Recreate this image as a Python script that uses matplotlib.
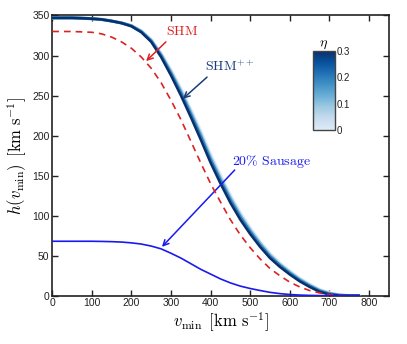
import numpy as np
import matplotlib
matplotlib.use("Agg")
import matplotlib.pyplot as plt
from matplotlib.colors import LinearSegmentedColormap, Normalize
import matplotlib.cm as cm

plt.rcParams['mathtext.fontset'] = 'cm'
plt.rcParams['font.family'] = ['Liberation Sans', 'DejaVu Sans']

v = [0, 25, 50, 75, 100, 125, 150, 175, 200, 225, 250, 275, 300, 325, 350, 375,
     400, 425, 450, 475, 500, 525, 550, 575, 600, 625, 650, 675, 700, 725, 750, 775]

h_shm = [330, 330, 330, 329.5, 329, 327, 323, 317, 309, 298, 284, 266, 244, 220, 193, 166,
         140, 117, 95, 76, 60, 46, 34, 25, 17, 11, 6.5, 3.5, 1.5, 0.5, 0.1, 0]

h_pp_eta00 = [347, 347, 347, 346.6, 346, 345, 343.2, 340.8, 337.5, 331, 320, 303, 282, 259, 233, 206,
              177, 151, 126, 104, 85, 68, 53, 41, 31, 22, 14.5, 8, 3.7, 1.2, 0, 0]
h_pp_eta01 = [347, 347, 347, 346.6, 346, 345, 343.1, 340.7, 337.2, 330.3, 319, 301.3, 279.7, 256, 229.7, 202.3,
              173, 147.3, 122.7, 101, 82.3, 65.7, 51, 39.3, 29.5, 20.7, 13.3, 7, 3, 0.9, 0, 0]
h_pp_eta02 = [347, 347, 347, 346.6, 346, 345, 343.0, 340.6, 336.9, 329.7, 318, 299.7, 277.3, 253, 226.3, 198.7,
              169.5, 143.7, 119.3, 98, 79.7, 63.3, 49, 37.7, 28, 19.3, 12.2, 6, 2.3, 0.5, 0, 0]
h_pp_eta03 = [347, 347, 347, 346.6, 346, 345, 343, 340.5, 336.5, 329, 317, 298, 275, 250, 223, 195,
              166, 140, 116, 95, 77, 61, 47, 36, 26.5, 18, 11, 5, 1.5, 0.2, 0, 0]

h_sausage = [68, 68, 68, 68, 68, 67.8, 67.5, 67, 66, 64.5, 62, 58.5, 53, 47, 40, 33,
             27, 21, 16, 12, 9, 6.5, 4.2, 2.6, 1.5, 0.8, 0.4, 0.15, 0, 0, 0, 0]

eta_values = [0.0, 0.1, 0.2, 0.3]
pp_curves = [h_pp_eta00, h_pp_eta01, h_pp_eta02, h_pp_eta03]
eta_ticks = [0, 0.1, 0.2, 0.3]
eta_ticklabels = ['0', '0.1', '0.2', '0.3']

base = plt.get_cmap('Blues')
cmap = LinearSegmentedColormap.from_list('bl', base(np.linspace(0.12, 1.0, 256)))
norm = Normalize(0, 0.3)

fig = plt.figure(figsize=(4.07, 3.44), dpi=100)
ax = fig.add_axes([0.1285, 0.1404, 0.8265, 0.8146])

for eta, hh in zip(eta_values, pp_curves):
    ax.plot(v, hh, color=cmap(norm(eta)), lw=2.2 if eta < 0.3 else 1.8, zorder=3,
            solid_capstyle='round', solid_joinstyle='round')

ax.plot(v, h_shm, color='#dd2222', lw=1.2, ls=(0, (4, 3)), zorder=4)
sausage_color = '#1a1af0'
ax.plot(v, h_sausage, color=sausage_color, lw=1.2, zorder=4)

ax.set_xlim(0, 850)
ax.set_ylim(0, 350)
ax.set_xticks(range(0, 801, 100))
ax.set_yticks(range(0, 351, 50))
ax.tick_params(direction='in', top=True, right=True, length=4, width=1, labelsize=7.5,
               colors='#222222', pad=2)
for s in ax.spines.values():
    s.set_linewidth(1.2)
    s.set_color('#222222')

ax.set_xlabel(r'$v_\mathrm{min}\ \,[\mathrm{km\ s^{-1}}]$', fontsize=12, labelpad=1)
ax.set_ylabel(r'$h(v_\mathrm{min})\ \,[\mathrm{km\ s^{-1}}]$', fontsize=12, labelpad=2)

# annotation texts
navy = '#1a3d7c'
red = '#dd2222'
ax.text(327, 330, r'$\mathrm{SHM}$', color=red, fontsize=10, ha='center', va='center')
ax.text(449, 286, r'$\mathrm{SHM}^{++}$', color=navy, fontsize=10, ha='center', va='center')
ax.text(555, 167, r'$20\%\ \mathrm{Sausage}$', color=sausage_color, fontsize=10, ha='center', va='center')

# arrows
ax.annotate('', xy=(237, 293), xytext=(287, 317),
            arrowprops=dict(arrowstyle='->', color=red, lw=1.1, shrinkA=0, shrinkB=0))
ax.annotate('', xy=(330, 246), xytext=(391, 273),
            arrowprops=dict(arrowstyle='->', color=navy, lw=1.1, shrinkA=0, shrinkB=0))
ax.annotate('', xy=(277, 61), xytext=(461, 157),
            arrowprops=dict(arrowstyle='->', color=sausage_color, lw=1.1, shrinkA=0, shrinkB=0))

# colorbar
cax = fig.add_axes([0.769, 0.622, 0.054, 0.2305])
sm = cm.ScalarMappable(norm=norm, cmap=cmap)
cb = fig.colorbar(sm, cax=cax, ticks=eta_ticks)
cb.ax.set_yticklabels(eta_ticklabels)
cb.ax.tick_params(labelsize=7, length=0, pad=1.5, colors='#222222')
cb.outline.set_linewidth(1.0)
cb.outline.set_edgecolor('#444444')
cax.set_title(r'$\eta$', fontsize=10, pad=3)

fig.savefig('out.png', dpi=100)
